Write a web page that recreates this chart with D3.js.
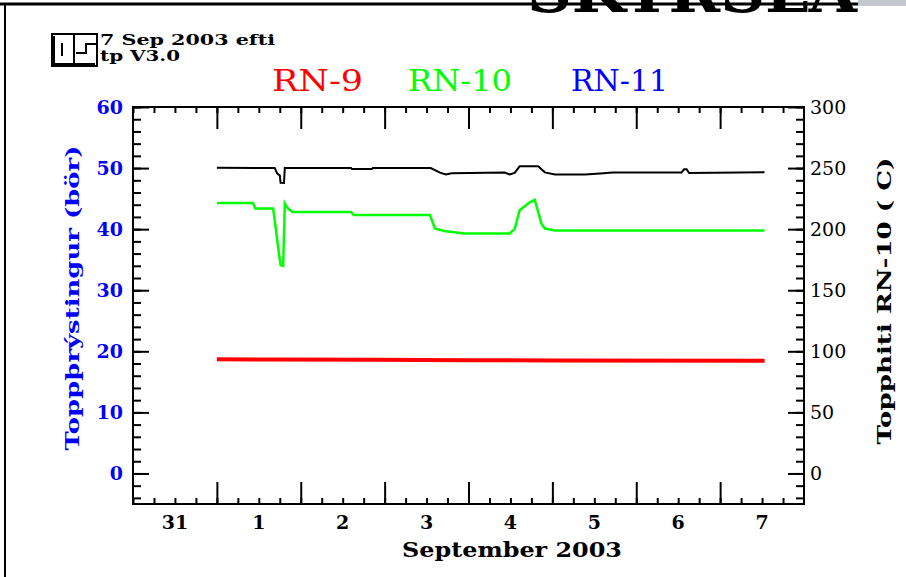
<!DOCTYPE html>
<html>
<head>
<meta charset="utf-8">
<script src="https://cdn.jsdelivr.net/npm/d3@7"></script>
<style>
  body { margin: 0; background: #fff; }
  svg { display: block; }
  text { font-family: "DejaVu Serif", "Liberation Serif", serif; }
</style>
</head>
<body>
<svg id="chart" width="906" height="577"></svg>
<script>
// days counted from 31 Aug 2003 00:00
var seriesNames = ['RN-9', 'RN-10', 'RN-11'];
var seriesColors = ['#ff0000', '#00ff00', '#0000ff'];

var rn9Days = [1.00, 1.70, 2.90, 4.00, 5.00, 7.53];
var rn9Bar = [18.7, 18.65, 18.6, 18.55, 18.5, 18.45];

var rn10Days = [1.00, 1.43, 1.46, 1.67, 1.70, 1.74, 1.76, 1.79, 1.81, 1.84, 1.90, 2.60, 2.63, 3.54,
  3.60, 3.71, 3.95, 4.49, 4.55, 4.61, 4.73, 4.79, 4.87, 4.91, 5.03, 7.53];
var rn10Bar = [44.3, 44.3, 43.4, 43.4, 40.4, 36.0, 34.1, 34.0, 44.2, 43.5, 42.8, 42.8, 42.3, 42.3,
  40.1, 39.7, 39.3, 39.3, 40.0, 43.1, 44.4, 44.8, 40.9, 40.1, 39.8, 39.8];

var tempDays = [1.00, 1.69, 1.72, 1.75, 1.76, 1.80, 1.81, 2.60, 2.61, 2.85, 2.86, 3.55, 3.66, 3.73,
  3.80, 4.43, 4.49, 4.55, 4.61, 4.83, 4.91, 5.03, 5.39, 5.57, 5.72, 6.54, 6.57, 6.60, 6.63, 7.53];
var tempC = [250.3, 250.0, 245.5, 244.0, 238.0, 237.8, 250.0, 250.0, 249.2, 249.2, 250.0, 250.0, 246.3, 244.7,
  245.8, 246.3, 244.8, 246.0, 251.4, 251.4, 246.5, 244.7, 244.7, 245.5, 246.3, 246.3, 249.0, 249.0, 246.0, 246.5];

var dayLabels = ['31', '1', '2', '3', '4', '5', '6', '7'];
var leftTicks = [0, 10, 20, 30, 40, 50, 60];
var rightTicks = [0, 50, 100, 150, 200, 250, 300];

var svg = d3.select('#chart');
var pLeft = 133, pRight = 804, pTop = 107, pBottom = 504;
var base = new Date(2003, 7, 31);
function toDate(d) { return new Date(base.getTime() + d * 864e5); }

var x = d3.scaleTime().domain([toDate(0), toDate(8)]).range([pLeft, pRight]);
var yL = d3.scaleLinear().domain([-5, 60]).range([pBottom, pTop]);
var yR = d3.scaleLinear().domain([-25, 300]).range([pBottom, pTop]);

// page frame
svg.append('line').attr('x1', 0).attr('x2', 858).attr('y1', 4).attr('y2', 4)
  .attr('stroke', '#000').attr('stroke-width', 3);
svg.append('line').attr('x1', 5).attr('x2', 5).attr('y1', 4).attr('y2', 577)
  .attr('stroke', '#000').attr('stroke-width', 2);
svg.append('rect').attr('x', 858).attr('y', 0).attr('width', 48).attr('height', 6).attr('fill', '#c4c8cc');
svg.append('text').attr('x', 527).attr('y', 12).attr('font-size', 60).attr('font-weight', 'bold')
  .attr('textLength', 330).attr('lengthAdjust', 'spacingAndGlyphs').text('SKÝRSLA');

// logo
var logo = svg.append('g').attr('fill', 'none').attr('stroke', '#000').attr('stroke-width', 2);
logo.append('rect').attr('x', 52).attr('y', 34).attr('width', 45).attr('height', 32);
logo.append('path').attr('d', 'M54,36V64H95 M74,34V66 M62,43V56 M76,53H86V44H97');

svg.append('text').attr('x', 100).attr('y', 45).attr('font-size', 14).attr('font-weight', 'bold')
  .attr('textLength', 175).attr('lengthAdjust', 'spacingAndGlyphs').text('7 Sep 2003 efti');
svg.append('text').attr('x', 100).attr('y', 61).attr('font-size', 14).attr('font-weight', 'bold')
  .attr('textLength', 80).attr('lengthAdjust', 'spacingAndGlyphs').text('tp V3.0');

// legend
var legendX = [272, 408, 571], legendW = [91, 104, 97];
svg.selectAll('.legend').data(seriesNames).enter().append('text')
  .attr('class', 'legend')
  .attr('x', function(d, i) { return legendX[i]; })
  .attr('y', 91)
  .attr('font-size', 30)
  .attr('fill', function(d, i) { return seriesColors[i]; })
  .attr('textLength', function(d, i) { return legendW[i]; })
  .attr('lengthAdjust', 'spacingAndGlyphs')
  .text(function(d) { return d; });

// axes
function styleAxis(g) {
  g.select('.domain').remove();
  g.selectAll('line').attr('stroke', '#000').attr('stroke-width', 2);
  g.selectAll('text').remove();
}
var hourTicks = d3.timeHour.every(6).range(toDate(0), toDate(8));
var dayTicks = d3.timeDay.range(toDate(1), toDate(8));

[[pBottom, d3.axisTop], [pTop, d3.axisBottom]].forEach(function(p) {
  svg.append('g').attr('transform', 'translate(0,' + p[0] + ')')
    .call(p[1](x).tickValues(hourTicks).tickSize(6)).call(styleAxis);
  svg.append('g').attr('transform', 'translate(0,' + p[0] + ')')
    .call(p[1](x).tickValues(dayTicks).tickSize(22)).call(styleAxis);
});

svg.append('g').attr('transform', 'translate(' + pLeft + ',0)')
  .call(d3.axisRight(yL).tickValues(d3.range(-4, 61, 2)).tickSize(8)).call(styleAxis);
svg.append('g').attr('transform', 'translate(' + pLeft + ',0)')
  .call(d3.axisRight(yL).tickValues(leftTicks).tickSize(16)).call(styleAxis);
svg.append('g').attr('transform', 'translate(' + pRight + ',0)')
  .call(d3.axisLeft(yR).tickValues(d3.range(-20, 301, 10)).tickSize(8)).call(styleAxis);
svg.append('g').attr('transform', 'translate(' + pRight + ',0)')
  .call(d3.axisLeft(yR).tickValues(rightTicks).tickSize(16)).call(styleAxis);

svg.append('rect').attr('x', pLeft).attr('y', pTop).attr('width', pRight - pLeft).attr('height', pBottom - pTop)
  .attr('fill', 'none').attr('stroke', '#000').attr('stroke-width', 2);

// tick labels
svg.selectAll('.ylab').data(leftTicks).enter().append('text')
  .attr('x', 123).attr('y', function(d) { return yL(d) + 7; })
  .attr('text-anchor', 'end').attr('font-size', 19).attr('font-weight', 'bold').attr('fill', '#0000ff')
  .text(function(d) { return d; });
svg.selectAll('.rlab').data(rightTicks).enter().append('text')
  .attr('x', 810).attr('y', function(d) { return yR(d) + 7; })
  .attr('font-size', 19).attr('fill', '#000')
  .text(function(d) { return d; });
svg.selectAll('.xlab').data(dayLabels).enter().append('text')
  .attr('x', function(d, i) { return x(toDate(i + 0.5)); }).attr('y', 529)
  .attr('text-anchor', 'middle').attr('font-size', 19).attr('font-weight', 'bold')
  .text(function(d) { return d; });
svg.append('text').attr('x', 512).attr('y', 557).attr('text-anchor', 'middle')
  .attr('font-size', 20).attr('font-weight', 'bold')
  .attr('textLength', 220).attr('lengthAdjust', 'spacingAndGlyphs').text('September 2003');

svg.append('text').attr('transform', 'translate(79,298) rotate(-90)')
  .attr('text-anchor', 'middle').attr('font-size', 19).attr('font-weight', 'bold').attr('fill', '#0000ff')
  .attr('textLength', 305).attr('lengthAdjust', 'spacingAndGlyphs').text('Toppþrýstingur (bör)');
svg.append('text').attr('transform', 'translate(891,301) rotate(-90)')
  .attr('text-anchor', 'middle').attr('font-size', 19).attr('font-weight', 'bold').attr('fill', '#000')
  .attr('textLength', 287).attr('lengthAdjust', 'spacingAndGlyphs').text('Topphiti RN-10 ( C)');

// lines
function drawLine(days, vals, scale, color, width) {
  var line = d3.line()
    .x(function(d) { return x(toDate(d[0])); })
    .y(function(d) { return scale(d[1]); });
  svg.append('path').datum(d3.zip(days, vals))
    .attr('d', line).attr('fill', 'none').attr('stroke', color).attr('stroke-width', width);
}
drawLine(rn9Days, rn9Bar, yL, '#ff0000', 4);
drawLine(rn10Days, rn10Bar, yL, '#00ff00', 2.5);
drawLine(tempDays, tempC, yR, '#000000', 2);
</script>
</body>
</html>
